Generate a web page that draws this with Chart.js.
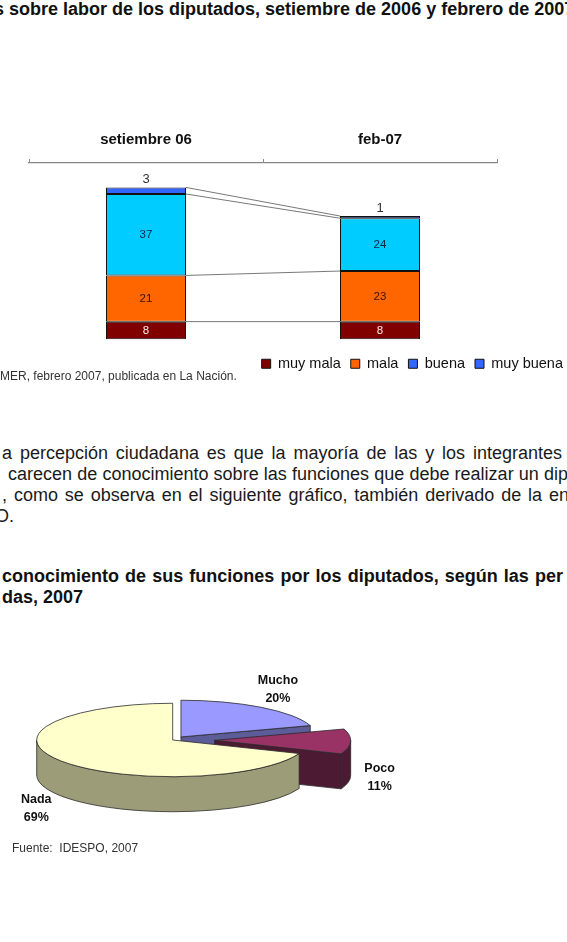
<!DOCTYPE html>
<html>
<head>
<meta charset="utf-8">
<script src="https://cdn.jsdelivr.net/npm/chart.js@4"></script>
<style>
  body {
    margin: 0;
    width: 567px;
    height: 942px;
    overflow: hidden;
    position: relative;
    background: #fff;
    font-family: "Liberation Sans", Arial, sans-serif;
    color: #1a1a1a;
  }
  .ln { position: absolute; white-space: nowrap; font-size: 18px; line-height: 21px; }
  .b { font-weight: bold; color: #111; }
  .j { text-align: justify; text-align-last: justify; }
  .src { position: absolute; white-space: nowrap; font-size: 12px; line-height: 14px; color: #333; }
  #bars { position: absolute; left: 0; top: 120px; }
  #pie { position: absolute; left: 0; top: 640px; }
</style>
</head>
<body>

<div class="ln b" style="left:-6px; top:-1px;">s sobre labor de los diputados, setiembre de 2006 y febrero de 2007</div>

<canvas id="bars" width="573" height="261"></canvas>
<div class="src" style="left:0; top:369px;">MER, febrero 2007, publicada en La Nación.</div>

<div class="ln j" style="left:2px; top:443px; width:560px;">a percepción ciudadana es que la mayoría de las y los integrantes</div>
<div class="ln j" style="left:8px; top:464px; width:560px;">carecen de conocimiento sobre las funciones que debe realizar un dip</div>
<div class="ln j" style="left:2px; top:485px; width:567px;">, como se observa en el siguiente gráfico, también derivado de la en</div>
<div class="ln" style="left:-5px; top:506px;">O.</div>

<div class="ln b j" style="left:2px; top:566px; width:561px;">conocimiento de sus funciones por los diputados, según las per</div>
<div class="ln b" style="left:2px; top:587px;">das, 2007</div>

<canvas id="pie" width="567" height="220"></canvas>
<div class="src" style="left:12px; top:841px;">Fuente:&nbsp; IDESPO, 2007</div>

<script>
// bar chart data
const periods = ["setiembre 06", "feb-07"];
const seriesNames = ["muy mala", "mala", "buena", "muy buena"];
const muyMala = [8, 8];
const mala = [21, 23];
const buena = [37, 24];
const muyBuena = [3, 1];

// pie chart data
const conocimiento = ["Mucho", "Poco", "Nada"];
const conocimientoPct = [20, 11, 69];

// styles
const barColors = ["#800000", "#ff6600", "#00ccff", "#3366ff"];
const legendColors = ["#800000", "#ff6600", "#3366ff", "#3366ff"];
const barTextColors = ["#ffe6e6", "#3a1200", "#0a2440", "#333333"];
const pieTop = ["#9999ff", "#993366", "#ffffcc"];
const pieSide = ["#5c5c99", "#4d1a33", "#9c9c78"];
const pieOffsets = [14, 42, 0];
const TILT = 0.27;
const DEPTH = 35;

Chart.defaults.font.family = '"Liberation Sans", Arial, sans-serif';
Chart.defaults.animation = false;

// lines joining the series + value labels
const barText = {
  id: "barText",
  afterDatasetsDraw(chart) {
    const ctx = chart.ctx;
    ctx.save();
    ctx.strokeStyle = "#555";
    ctx.lineWidth = 0.8;
    chart.data.datasets.forEach((ds, d) => {
      const els = chart.getDatasetMeta(d).data;
      ctx.beginPath();
      ctx.moveTo(els[0].x + els[0].width / 2, els[0].y);
      ctx.lineTo(els[1].x - els[1].width / 2, els[1].y);
      ctx.stroke();
    });
    ctx.textAlign = "center";
    ctx.textBaseline = "middle";
    chart.data.datasets.forEach((ds, d) => {
      const els = chart.getDatasetMeta(d).data;
      ctx.fillStyle = barTextColors[d];
      els.forEach((el, i) => {
        if (d === 3) {
          ctx.font = '13px "Liberation Sans", Arial, sans-serif';
          ctx.fillText(ds.data[i], el.x, el.y - 8);
        } else {
          ctx.font = '11.5px "Liberation Sans", Arial, sans-serif';
          ctx.fillText(ds.data[i], el.x, (el.y + el.base) / 2);
        }
      });
    });
    ctx.restore();
  }
};

new Chart(document.getElementById("bars"), {
  type: "bar",
  data: {
    labels: periods,
    datasets: [muyMala, mala, buena, muyBuena].map((vals, i) => ({
      label: seriesNames[i],
      data: vals,
      backgroundColor: barColors[i],
      borderColor: "#111",
      borderWidth: 1,
      borderSkipped: false,
      categoryPercentage: 1,
      barPercentage: 0.342,
    })),
  },
  options: {
    responsive: false,
    events: [],
    layout: { padding: { left: 29, right: 0, top: 0, bottom: 0 } },
    scales: {
      x: {
        position: "top",
        stacked: true,
        afterFit: (s) => { s.height = 43; },
        grid: { drawOnChartArea: false, drawTicks: true, tickLength: 4, color: "#888", offset: true },
        border: { color: "#888", width: 1.2 },
        ticks: { color: "#111", padding: 10, font: { size: 15, weight: "bold" } },
      },
      y: {
        position: "right",
        stacked: true,
        min: -3.3,
        max: 80.1,
        afterFit: (s) => { s.width = 76; },
        ticks: { display: false },
        grid: { display: false },
        border: { display: false },
      },
    },
    plugins: {
      tooltip: { enabled: false },
      legend: {
        position: "bottom",
        align: "end",
        labels: {
          boxWidth: 9,
          boxHeight: 9,
          padding: 10,
          color: "#111",
          font: { size: 14.5 },
          generateLabels: (chart) =>
            Chart.defaults.plugins.legend.labels.generateLabels(chart).map((l, i) => ({
              ...l,
              fillStyle: legendColors[i],
              strokeStyle: "#111",
              lineWidth: 1,
            })),
        },
      },
    },
  },
  plugins: [barText],
});

// 3D look for the pie, built from the arcs Chart.js lays out
const pie3d = {
  id: "pie3d",
  beforeDatasetsDraw(chart) {
    const ctx = chart.ctx;
    const arcs = chart.getDatasetMeta(0).data;
    const parts = arcs.map((arc, i) => {
      const off = arc.options.offset || 0;
      const mid = (arc.startAngle + arc.endAngle) / 2;
      return {
        i, mid,
        a1: arc.startAngle,
        a2: arc.endAngle,
        r: arc.outerRadius,
        cx: arc.x + Math.cos(mid) * off,
        cy: arc.y + Math.sin(mid) * off * TILT,
      };
    });
    const pt = (p, a, dz) => [p.cx + p.r * Math.cos(a), p.cy + p.r * TILT * Math.sin(a) + dz];
    const order = parts.slice().sort((a, b) => Math.sin(a.mid) - Math.sin(b.mid));

    ctx.save();
    ctx.strokeStyle = "#2a2a2a";
    ctx.lineWidth = 0.8;
    ctx.lineJoin = "round";

    const face = (p, a) => {
      const q = pt(p, a, 0);
      ctx.beginPath();
      ctx.moveTo(p.cx, p.cy);
      ctx.lineTo(q[0], q[1]);
      ctx.lineTo(q[0], q[1] + DEPTH);
      ctx.lineTo(p.cx, p.cy + DEPTH);
      ctx.closePath();
      ctx.fillStyle = pieSide[p.i];
      ctx.fill();
      ctx.stroke();
    };

    order.forEach((p) => {
      if (Math.cos(p.a1) < -1e-6) face(p, p.a1);
      if (Math.cos(p.a2) > 1e-6) face(p, p.a2);
      const s = Math.max(p.a1, 0);
      const e = Math.min(p.a2, Math.PI);
      if (s < e) {
        const q = pt(p, e, DEPTH);
        ctx.beginPath();
        ctx.ellipse(p.cx, p.cy, p.r, p.r * TILT, 0, s, e);
        ctx.lineTo(q[0], q[1]);
        ctx.ellipse(p.cx, p.cy + DEPTH, p.r, p.r * TILT, 0, e, s, true);
        ctx.closePath();
        ctx.fillStyle = pieSide[p.i];
        ctx.fill();
        ctx.stroke();
      }
    });

    order.forEach((p) => {
      ctx.beginPath();
      ctx.moveTo(p.cx, p.cy);
      ctx.ellipse(p.cx, p.cy, p.r, p.r * TILT, 0, p.a1, p.a2);
      ctx.closePath();
      ctx.fillStyle = pieTop[p.i];
      ctx.fill();
      ctx.stroke();
    });

    ctx.fillStyle = "#111";
    ctx.font = 'bold 12.5px "Liberation Sans", Arial, sans-serif';
    ctx.textAlign = "center";
    ctx.textBaseline = "middle";
    parts.forEach((p) => {
      const x = p.cx + Math.cos(p.mid) * 165;
      const y = p.cy + Math.sin(p.mid) * 59 + (Math.sin(p.mid) > 0 ? DEPTH : 0);
      ctx.fillText(conocimiento[p.i], x, y - 9);
      ctx.fillText(conocimientoPct[p.i] + "%", x, y + 9);
    });
    ctx.restore();
    return false;
  },
};

new Chart(document.getElementById("pie"), {
  type: "pie",
  data: {
    labels: conocimiento,
    datasets: [{ data: conocimientoPct, backgroundColor: pieTop, offset: pieOffsets }],
  },
  options: {
    responsive: false,
    events: [],
    radius: 136,
    layout: { padding: { left: 0, right: 221.6, top: 0, bottom: 20 } },
    plugins: { legend: { display: false }, tooltip: { enabled: false } },
  },
  plugins: [pie3d],
});
</script>
</body>
</html>
